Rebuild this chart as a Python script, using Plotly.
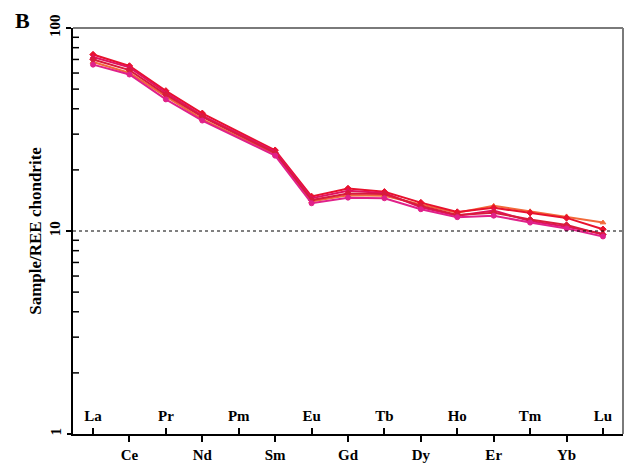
import plotly.graph_objects as go

elements = ["La", "Ce", "Pr", "Nd", "Pm", "Sm", "Eu", "Gd", "Tb", "Dy", "Ho", "Er", "Tm", "Yb", "Lu"]

# Chondrite-normalised REE values (Pm not analysed -> None)
s1 = [74, 65, 49, 38, None, 25.0, 14.8, 16.2, 15.6, 13.8, 12.4, 13.0, 12.3, 11.6, 10.2]
s2 = [70, 62, 47, 36.5, None, 24.2, 14.2, 15.3, 15.2, 13.3, 12.0, 12.3, 11.4, 10.7, 9.6]
s3 = [66, 59, 44.5, 35, None, 23.5, 13.7, 14.6, 14.5, 12.8, 11.7, 11.9, 11.0, 10.3, 9.4]
s4 = [68, 60, 46, 35.5, None, 23.8, 14.0, 15.0, 14.9, 13.5, 12.3, 13.3, 12.5, 11.8, 11.0]
s5 = [72, 64, 48, 37, None, 24.6, 14.5, 15.8, 15.4, 13.1, 11.9, 12.6, 11.2, 10.5, 9.7]

series = [s4, s1, s5, s2, s3]
colors = ["#f26a3a", "#e8112d", "#e0115f", "#d81b3c", "#e0218a"]
symbols = ["triangle-up", "diamond", "triangle-up", "diamond", "circle"]

y_major = [1, 10, 100]
y_minor = [2, 3, 4, 5, 6, 7, 8, 9, 20, 30, 40, 50, 60, 70, 80, 90]

x = list(range(len(elements)))
fig = go.Figure()
for vals, c, sym in zip(series, colors, symbols):
    fig.add_trace(go.Scatter(
        x=x, y=vals, mode="lines+markers", connectgaps=True,
        line=dict(color=c, width=2),
        marker=dict(symbol=sym, size=5, color=c, line=dict(color=c, width=1)),
        showlegend=False, hoverinfo="skip"))

# invisible traces to hold the helper axes
fig.add_trace(go.Scatter(x=[0], y=[10], xaxis="x2", mode="markers",
                         marker=dict(opacity=0), showlegend=False, hoverinfo="skip"))
fig.add_trace(go.Scatter(x=[0], y=[10], yaxis="y2", mode="markers",
                         marker=dict(opacity=0), showlegend=False, hoverinfo="skip"))

font = dict(family="Liberation Serif", size=15, color="black", weight="bold")
xr = [-0.55, 14.55]
yr = [0, 2]
lower_idx = [i for i in x if i % 2 == 1]
upper_idx = [i for i in x if i % 2 == 0]

# minor log ticks on the inside of the left axis
minor_shapes = [dict(type="line", xref="paper", yref="y", xsizemode="pixel", xanchor=0,
                     x0=0, x1=6, y0=v, y1=v, line=dict(color="black", width=1.5))
                for v in y_minor]

fig.update_layout(
    width=626, height=464,
    margin=dict(l=73, r=3, t=28, b=30),
    paper_bgcolor="white", plot_bgcolor="white",
    font=font,
    xaxis=dict(range=xr, tickmode="array", tickvals=lower_idx, ticktext=[elements[i] for i in lower_idx],
               ticks="outside", ticklen=6, tickwidth=1.5, tickcolor="black", showgrid=False, zeroline=False,
               showline=True, linecolor="black", linewidth=1.5, tickfont=font, automargin=False),
    xaxis2=dict(range=xr, overlaying="x", side="bottom", anchor="y", matches="x",
                tickmode="array", tickvals=upper_idx, ticktext=[elements[i] for i in upper_idx],
                ticks="inside", ticklen=6, tickwidth=1.5, tickcolor="black", ticklabelposition="inside",
                ticklabelstandoff=4,
                showgrid=False, zeroline=False, showline=False, tickfont=font, automargin=False),
    yaxis=dict(type="log", range=yr, tickmode="array", tickvals=y_major,
               ticktext=[str(v) for v in y_major],
               tickangle=-90, ticks="outside", ticklen=5, tickwidth=1.5, tickcolor="black",
               showgrid=False, zeroline=False, showline=True, linecolor="black", linewidth=1.5,
               tickfont=font, automargin=False,
               title=dict(text="Sample/REE chondrite", font=dict(family="Liberation Serif", size=17,
                                                                  color="black", weight="bold"),
                          standoff=1)),
    yaxis2=dict(type="log", range=yr, overlaying="y", side="left", anchor="x",
                tickmode="array", tickvals=[1], ticktext=["1"],
                tickangle=-90, ticks="outside", ticklen=5, tickwidth=1.5, tickcolor="black",
                showgrid=False, zeroline=False, showline=False, tickfont=font, automargin=False),
    shapes=[
        dict(type="line", xref="paper", yref="y", x0=0, x1=1, y0=10, y1=10,
             line=dict(color="black", width=1, dash="dot")),
        dict(type="line", xref="paper", yref="paper", x0=0, x1=1, y0=1, y1=1,
             line=dict(color="#7a7a7a", width=2)),
        dict(type="line", xref="paper", yref="paper", x0=1, x1=1, y0=0, y1=1,
             line=dict(color="#7a7a7a", width=2)),
    ] + minor_shapes,
    annotations=[dict(text="B", xref="paper", yref="paper", x=(22 - 73) / 550, y=1 + (28 - 20) / 406,
                      showarrow=False, xanchor="center", yanchor="middle",
                      font=dict(family="Liberation Serif", size=22, color="black", weight="bold"))],
)

fig.write_html("out.html", config={"displayModeBar": False},
               post_script="document.body.style.margin='0';document.body.style.padding='0';")
